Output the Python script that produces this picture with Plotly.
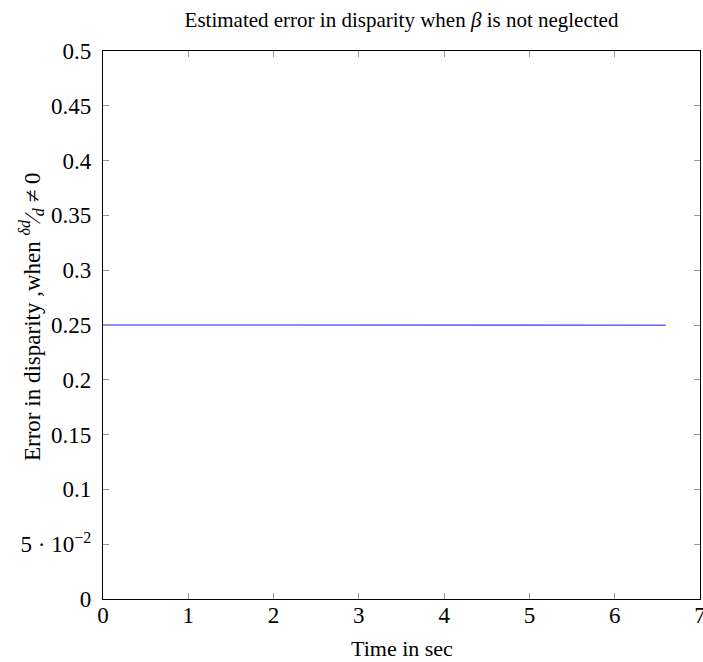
import plotly.graph_objects as go

# Time samples (s) and estimated disparity error
time_sec = [0.0, 0.6, 1.2, 1.8, 2.4, 3.0, 3.6, 4.2, 4.8, 5.4, 6.0, 6.6]
disparity_error = [0.25, 0.25, 0.25, 0.25, 0.25, 0.25, 0.2499, 0.2499, 0.2499, 0.2499, 0.2498, 0.2498]

x_ticks = [0, 1, 2, 3, 4, 5, 6, 7]
y_ticks = [0, 0.05, 0.1, 0.15, 0.2, 0.25, 0.3, 0.35, 0.4, 0.45, 0.5]
y_tick_text = ["0", "5 · 10<sup>−2</sup>", "0.1", "0.15", "0.2", "0.25",
               "0.3", "0.35", "0.4", "0.45", "0.5"]

font_family = "Liberation Serif"
W, H = 703, 662
L, R, T, B = 103, 3, 51, 63

fig = go.Figure()
fig.add_trace(go.Scatter(
    x=time_sec, y=disparity_error, mode="lines",
    line=dict(color="rgb(105,105,255)", width=1.6),
    showlegend=False, hoverinfo="skip",
))

axis_common = dict(
    showgrid=False, zeroline=False, automargin=False,
    showline=True, linecolor="black", linewidth=1.2, mirror="ticks",
    ticks="inside", ticklen=6, tickcolor="rgb(150,150,150)", tickwidth=1,
    tickfont=dict(family=font_family, size=23, color="black"),
    ticklabeloverflow="allow",
)

fig.update_layout(
    width=W, height=H,
    margin=dict(l=L, r=R, t=T, b=B),
    paper_bgcolor="white", plot_bgcolor="white",
    font=dict(family=font_family, color="black"),
    title=dict(
        text="Estimated error in disparity when <i>β</i> is not neglected",
        x=(L + W - R) / 2 / W, xanchor="center",
        y=1 - 20 / H, yanchor="middle",
        font=dict(family=font_family, size=21, color="black"),
    ),
    xaxis=dict(range=[0, 7], tickvals=x_ticks, ticklabelstandoff=-5, **axis_common),
    yaxis=dict(range=[0, 0.5], tickvals=y_ticks, ticktext=y_tick_text,
               ticklabelstandoff=6, **axis_common),
)

# Axis titles placed as annotations relative to the plotting area
fig.add_annotation(
    text="Time in sec", xref="paper", yref="paper", x=0.5, y=0,
    xanchor="center", yanchor="middle", yshift=-49, showarrow=False,
    font=dict(family=font_family, size=22, color="black"),
)
fig.add_annotation(
    text="Error in disparity ,when <sup><i>δd</i></sup>⁄<sub><i>d</i></sub> ≠ 0",
    xref="paper", yref="paper", x=0, y=0.5, textangle=-90,
    xanchor="center", yanchor="middle", xshift=-(L - 31), yshift=8,
    showarrow=False, font=dict(family=font_family, size=23, color="black"),
)

fig.write_html("out.html")
